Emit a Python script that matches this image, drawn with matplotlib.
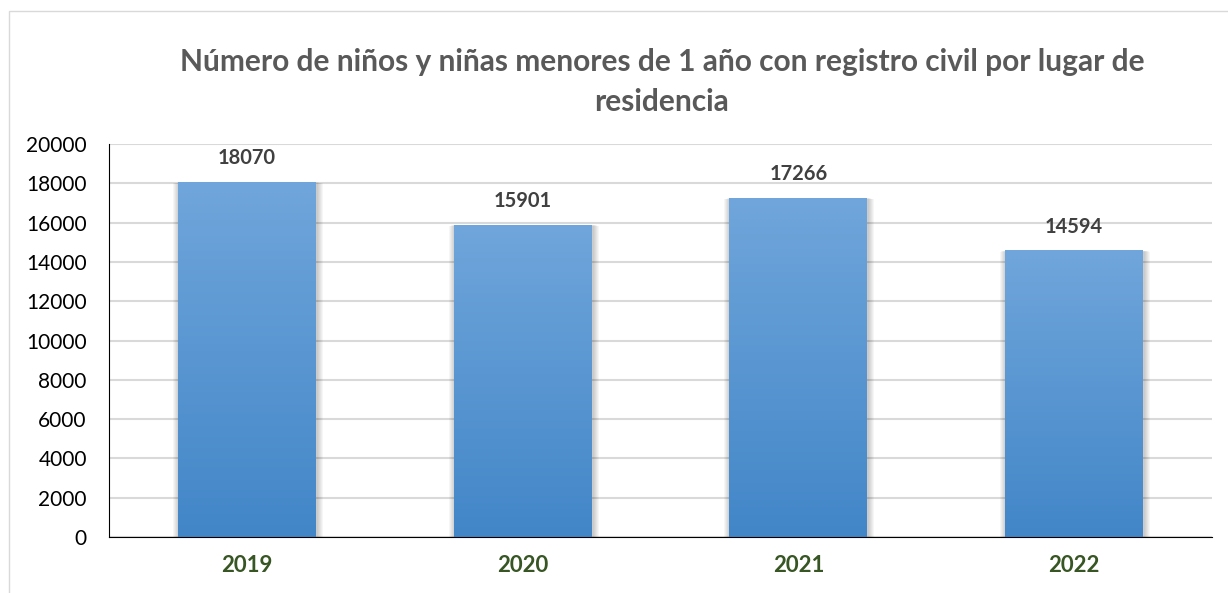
import matplotlib.pyplot as plt
import matplotlib.colors as mcolors
from matplotlib.patches import Rectangle
import numpy as np

# datos del grafico
anios = ['2019', '2020', '2021', '2022']
registros = [18070, 15901, 17266, 14594]

plt.rcParams['font.family'] = ['Lato', 'DejaVu Sans']

fig = plt.figure(figsize=(12.28, 5.93), dpi=100)
ax = fig.add_axes([0.0888, 0.0944, 0.8982, 0.6626])

# marco del grafico
fig.patches.append(Rectangle((9 / 1228, -0.01), 1.2, 1 - 11 / 593 + 0.01,
                             transform=fig.transFigure, fill=False,
                             edgecolor='#d9d9d9', linewidth=1))

x = np.arange(len(anios))
barras = ax.bar(x, registros, width=0.5, color='none', zorder=3)

# tamanio de un pixel en unidades de datos
px_x = 4 / 1103
px_y = 20000 / 393

# degradado azul con sombra suave
grad = np.linspace(0, 1, 256).reshape(-1, 1)
cmap = mcolors.LinearSegmentedColormap.from_list('azul', ['#4286c8', '#70a6db'])
for b in barras:
    x0, y0 = b.get_x(), b.get_y()
    w, h = b.get_width(), b.get_height()
    for k in range(1, 7):
        ax.add_patch(Rectangle((x0 - k * px_x + 1 * px_x, y0 - k * px_y * 0.6),
                               w + 2 * k * px_x, h + k * px_y * 0.4,
                               facecolor='#000000', alpha=0.035, edgecolor='none', zorder=2))
    im = ax.imshow(grad, extent=[x0, x0 + w, y0, y0 + h], origin='lower',
                   cmap=cmap, aspect='auto', zorder=3)
    im.set_clip_path(b)

for xi, v in zip(x, registros):
    ax.text(xi, v + 700, str(v), ha='center', va='bottom', fontsize=14.5,
            fontweight='bold', color='#404040')

ax.set_xlim(-0.5, 3.5)
ax.set_ylim(0, 20000)
ax.set_yticks(range(0, 20001, 2000))
ax.set_xticks(x)
ax.set_xticklabels(anios, fontsize=16, fontweight='bold', color='#375623')
ax.tick_params(axis='y', labelsize=15, length=0, pad=16)
ax.tick_params(axis='x', length=0, pad=13)
ax.grid(axis='y', color='#d9d9d9', linewidth=1.5, zorder=0)
ax.set_axisbelow(True)
for s in ['top', 'right']:
    ax.spines[s].set_visible(False)
ax.spines['left'].set_color('black')
ax.spines['bottom'].set_color('black')
ax.spines['bottom'].set_zorder(4)

fig.text(0.539, 0.862, 'Número de niños y niñas menores de 1 año con registro civil por lugar de\nresidencia',
         ha='center', va='center', fontsize=21.5, fontweight='bold', color='#595959', linespacing=1.5)

fig.savefig('out.png', dpi=100)
